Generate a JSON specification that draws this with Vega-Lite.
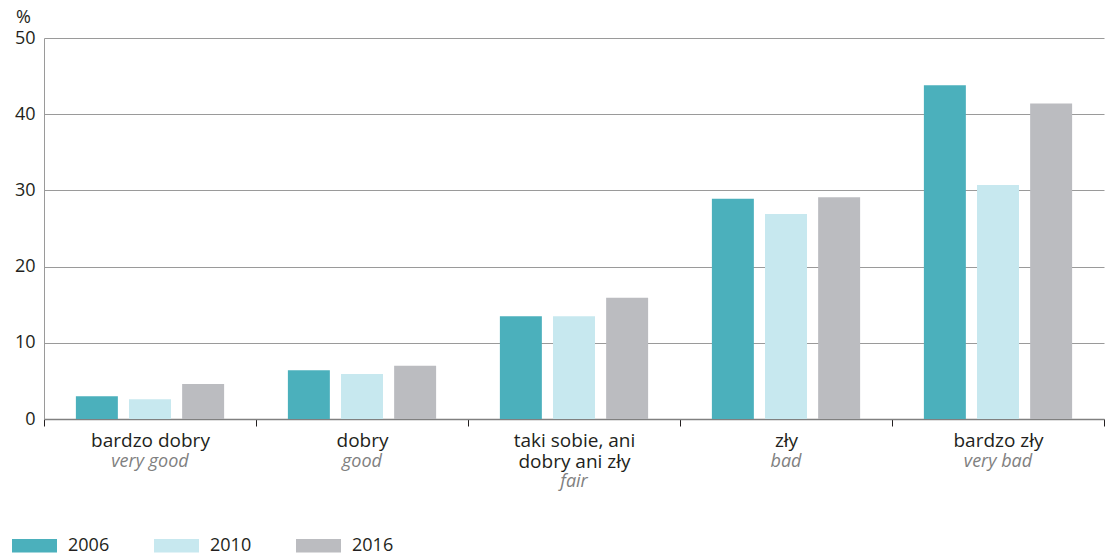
{
  "$schema": "https://vega.github.io/schema/vega-lite/v6.json",
  "autosize": "none",
  "width": 1060,
  "height": 381,
  "padding": {"left": 44, "top": 38, "right": 2, "bottom": 137},
  "config": {
    "font": "Open Sans",
    "view": {"stroke": null},
    "axis": {"labelFont": "Open Sans", "titleFont": "Open Sans"},
    "legend": {"labelFont": "Open Sans"}
  },
  "data": {
    "values": [
      {"kategoria": "bardzo dobry", "rok": "2006", "procent": 3.0},
      {"kategoria": "bardzo dobry", "rok": "2010", "procent": 2.6},
      {"kategoria": "bardzo dobry", "rok": "2016", "procent": 4.6},
      {"kategoria": "dobry", "rok": "2006", "procent": 6.4},
      {"kategoria": "dobry", "rok": "2010", "procent": 5.9},
      {"kategoria": "dobry", "rok": "2016", "procent": 7.0},
      {"kategoria": "taki sobie, ani dobry ani zły", "rok": "2006", "procent": 13.5},
      {"kategoria": "taki sobie, ani dobry ani zły", "rok": "2010", "procent": 13.5},
      {"kategoria": "taki sobie, ani dobry ani zły", "rok": "2016", "procent": 15.9},
      {"kategoria": "zły", "rok": "2006", "procent": 28.9},
      {"kategoria": "zły", "rok": "2010", "procent": 26.9},
      {"kategoria": "zły", "rok": "2016", "procent": 29.1},
      {"kategoria": "bardzo zły", "rok": "2006", "procent": 43.8},
      {"kategoria": "bardzo zły", "rok": "2010", "procent": 30.7},
      {"kategoria": "bardzo zły", "rok": "2016", "procent": 41.4}
    ]
  },
  "resolve": {"axis": {"x": "independent"}},
  "layer": [
    {
      "mark": {"type": "bar"},
      "encoding": {
        "x": {
          "field": "kategoria",
          "type": "nominal",
          "sort": ["bardzo dobry", "dobry", "taki sobie, ani dobry ani zły", "zły", "bardzo zły"],
          "scale": {"paddingInner": 0, "paddingOuter": 0},
          "axis": {
            "orient": "bottom",
            "title": null,
            "labelAngle": 0,
            "labelFontSize": 19,
            "labelColor": "#231f20",
            "labelBaseline": "top",
            "labelPadding": 5,
            "labelLineHeight": 21,
            "labelExpr": "datum.value == 'taki sobie, ani dobry ani zły' ? ['taki sobie, ani', 'dobry ani zły'] : datum.value",
            "domainColor": "#808080",
            "domainWidth": 1.5,
            "tickBand": "extent",
            "tickColor": "#231f20",
            "tickSize": 7,
            "tickWidth": 1,
            "grid": false
          }
        },
        "xOffset": {
          "field": "rok",
          "type": "nominal",
          "scale": {"paddingInner": 0.21, "paddingOuter": 0.6}
        },
        "y": {
          "field": "procent",
          "type": "quantitative",
          "scale": {"domain": [0, 50], "nice": false},
          "axis": {
            "values": [0, 10, 20, 30, 40, 50],
            "title": "%",
            "titleAngle": 0,
            "titleX": -21,
            "titleY": -21,
            "titleAlign": "center",
            "titleBaseline": "middle",
            "titleFontSize": 18,
            "titleFontWeight": "normal",
            "titleColor": "#231f20",
            "labelFontSize": 18,
            "labelColor": "#231f20",
            "labelPadding": 9,
            "ticks": false,
            "domainColor": "#9a9a9a",
            "domainWidth": 1,
            "gridColor": "#9a9a9a",
            "gridWidth": 1
          }
        },
        "color": {
          "field": "rok",
          "type": "nominal",
          "scale": {"domain": ["2006", "2010", "2016"], "range": ["#4bb0bc", "#c7e8ef", "#bbbcc0"]},
          "legend": {
            "title": null,
            "orient": "none",
            "direction": "horizontal",
            "legendX": -32,
            "legendY": 485,
            "symbolType": "M-1,-0.3H1V0.3H-1Z",
            "symbolSize": 2025,
            "symbolStrokeWidth": 0,
            "symbolOpacity": 1,
            "labelFontSize": 18,
            "labelColor": "#231f20",
            "labelOffset": 11,
            "columnPadding": 44,
            "padding": 0
          }
        }
      }
    },
    {
      "mark": {"type": "rule", "opacity": 0},
      "encoding": {
        "x": {
          "field": "kategoria",
          "type": "nominal",
          "sort": ["bardzo dobry", "dobry", "taki sobie, ani dobry ani zły", "zły", "bardzo zły"],
          "axis": {
            "orient": "bottom",
            "title": null,
            "labelAngle": 0,
            "labelFontSize": 18,
            "labelFontStyle": "italic",
            "labelColor": "#808080",
            "labelBaseline": "top",
            "labelPadding": 33,
            "labelExpr": "datum.value == 'bardzo dobry' ? 'very good' : datum.value == 'dobry' ? 'good' : datum.value == 'zły' ? 'bad' : datum.value == 'bardzo zły' ? 'very bad' : ''",
            "domain": false,
            "ticks": false,
            "grid": false
          }
        }
      }
    },
    {
      "mark": {"type": "rule", "opacity": 0},
      "encoding": {
        "x": {
          "field": "kategoria",
          "type": "nominal",
          "sort": ["bardzo dobry", "dobry", "taki sobie, ani dobry ani zły", "zły", "bardzo zły"],
          "axis": {
            "orient": "bottom",
            "title": null,
            "labelAngle": 0,
            "labelFontSize": 18,
            "labelFontStyle": "italic",
            "labelColor": "#808080",
            "labelBaseline": "top",
            "labelPadding": 53,
            "labelExpr": "datum.value == 'taki sobie, ani dobry ani zły' ? 'fair' : ''",
            "domain": false,
            "ticks": false,
            "grid": false
          }
        }
      }
    }
  ]
}
